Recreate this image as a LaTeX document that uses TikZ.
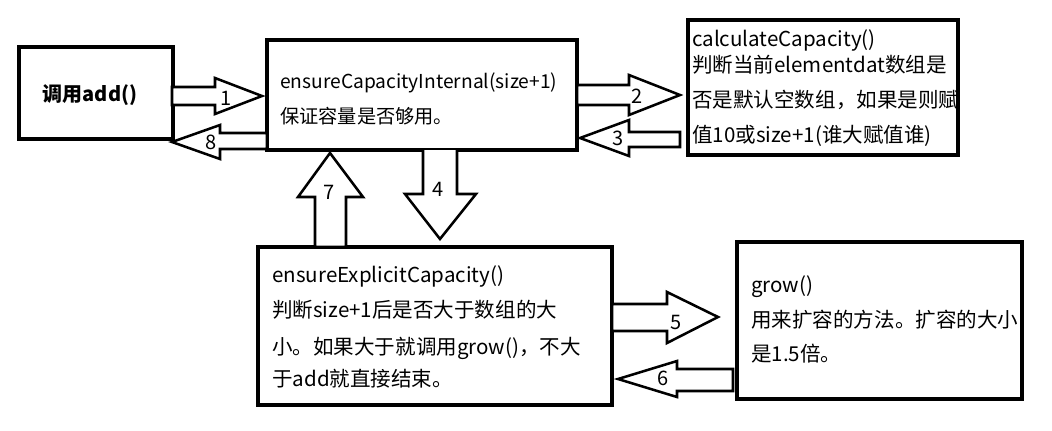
\documentclass[tikz,border=0pt]{standalone}
\usepackage{fontspec}
\setmainfont{Noto Sans CJK SC}
\begin{document}
\begin{tikzpicture}[x=0.75pt,y=-0.75pt,
  box/.style={draw,line width=2.4pt,inner sep=0,outer sep=0},
  blk/.style={draw,line width=1.9pt,fill=white,line join=miter},
  txt/.style={anchor=base west,inner sep=0,font=\fontsize{15.4}{16}\selectfont},
  txts/.style={anchor=base west,inner sep=0,font=\fontsize{14.4}{16}\selectfont},
  num/.style={inner sep=0,font=\fontsize{15}{16}\selectfont}]
\useasboundingbox (0,0) rectangle (1052,430);
% boxes
\node[box,minimum width=115.5pt,minimum height=69pt] (add) at (96,93) {};
\node[box,minimum width=232.5pt,minimum height=82.5pt] (eci) at (422,95) {};
\node[box,minimum width=202.5pt,minimum height=101.25pt] (calc) at (823,87.5) {};
\node[box,minimum width=265.5pt,minimum height=118.5pt] (eec) at (435,326) {};
\node[box,minimum width=213.75pt,minimum height=117.75pt] (grow) at (879.5,320.5) {};
% texts
\node[inner sep=0,font=\fontsize{15}{16}\selectfont\bfseries] (addt) at (90,95) {调用add()};
\node[txts] (eci1) at (280,88) {ensureCapacityInternal(size+1)};
\node[txts] (eci2) at (280,123) {保证容量是否够用。};
\node[txt] (c1) at (692,46) {calculateCapacity()};
\node[txt] (c2) at (692,72) {判断当前elementdat数组是};
\node[txt] (c3) at (692,107) {否是默认空数组，如果是则赋};
\node[txt] (c4) at (692,142) {值10或size+1(谁大赋值谁)};
\node[txt] (e1) at (272,282) {ensureExplicitCapacity()};
\node[txt] (e2) at (272,317) {判断size+1后是否大于数组的大};
\node[txt] (e3) at (272,354) {小。如果大于就调用grow()，不大};
\node[txt] (e4) at (272,386) {于add就直接结束。};
\node[txt] (g1) at (751,292) {grow()};
\node[txt] (g2) at (751,327) {用来扩容的方法。扩容的大小};
\node[txt] (g3) at (751,361) {是1.5倍。};
% block arrows
\draw[blk] (172,87) -- (215,87) -- (215,78) -- (262,96) -- (215,114) -- (215,105) -- (172,105) -- cycle;
\draw[blk] (267,133) -- (220,133) -- (220,125) -- (172,142) -- (220,159) -- (220,149) -- (267,149) -- cycle;
\draw[blk] (577,85) -- (629,85) -- (629,75) -- (680,95) -- (629,115) -- (629,105) -- (577,105) -- cycle;
\draw[blk] (680,132) -- (629,132) -- (629,120) -- (580,138) -- (629,156) -- (629,147) -- (680,147) -- cycle;
\draw[blk] (423,150) -- (423,194) -- (405,194) -- (440,239) -- (476,194) -- (457,194) -- (457,150);
\draw[blk] (315,247) -- (315,197) -- (298,197) -- (330,153) -- (363,197) -- (346,197) -- (346,247) -- cycle;
\draw[blk] (612,304) -- (667,304) -- (667,292) -- (718,317) -- (667,343) -- (667,331) -- (612,331) -- cycle;
\draw[blk] (733,369) -- (677,369) -- (677,361) -- (618,379) -- (677,397) -- (677,391) -- (733,391) -- cycle;
% labels
\node[num] (n1) at (226,98) {1};
\node[num] (n8) at (211,142) {8};
\node[num] (n2) at (637,96) {2};
\node[num] (n3) at (618,138) {3};
\node[num] (n4) at (438,189) {4};
\node[num] (n7) at (329,192) {7};
\node[num] (n5) at (676,322) {5};
\node[num] (n6) at (663,378) {6};
\end{tikzpicture}
\end{document}
